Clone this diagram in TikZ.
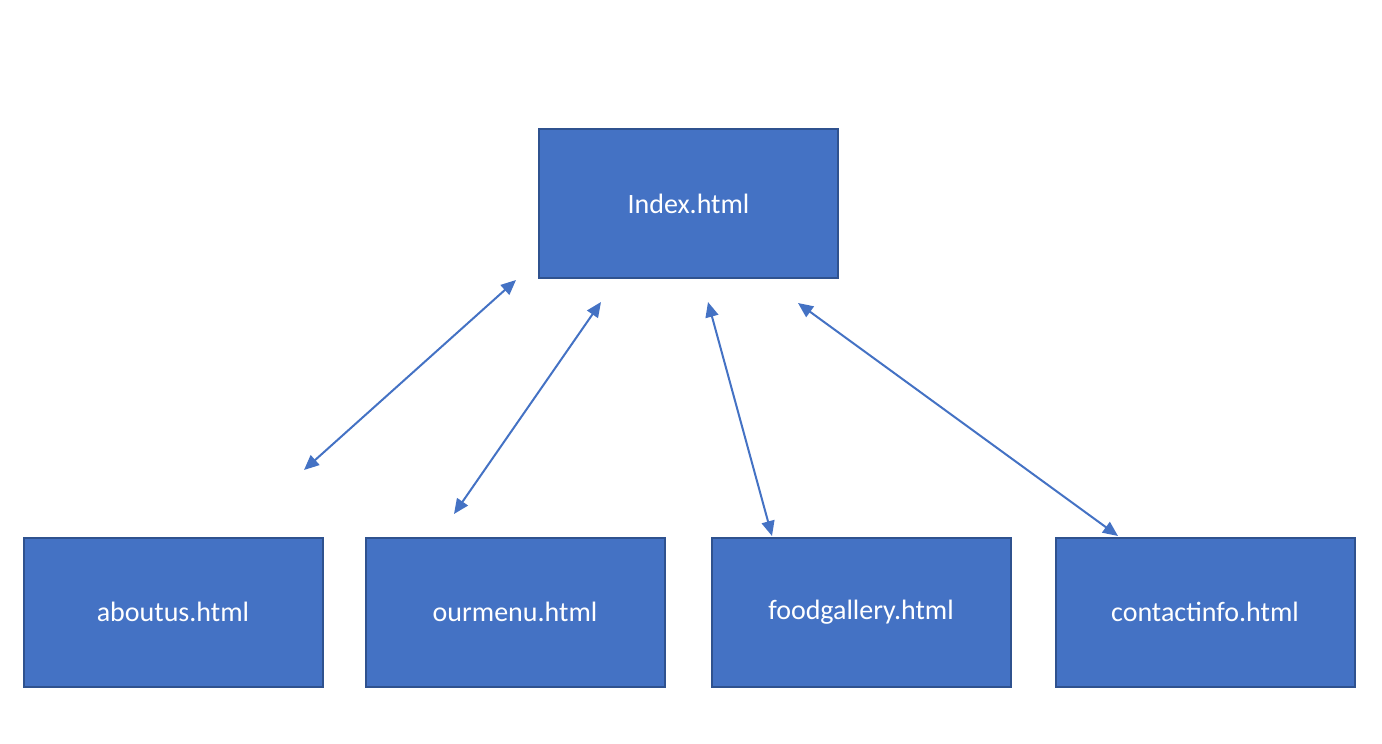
\documentclass[tikz,border=0pt]{standalone}
\usepackage{fontspec}
\setmainfont{Carlito}
\usetikzlibrary{arrows.meta}
\definecolor{boxfill}{HTML}{4472C4}
\definecolor{boxline}{HTML}{2F528F}
\begin{document}
\begin{tikzpicture}[x=1pt,y=-1pt,
  page/.style={draw=boxline,fill=boxfill,line width=2pt,minimum width=299pt,minimum height=149pt,
    inner sep=0pt,text=white,font=\fontsize{28}{32}\selectfont},
  link/.style={draw=boxfill,line width=2pt,{Triangle[length=15pt,width=13pt]}-{Triangle[length=15pt,width=13pt]}}]
\useasboundingbox (0,0) rectangle (1382,744);
\node[page] (index) at (688.5,203.5) {Index.html};
\node[page] (about) at (173,612) {aboutus.html};
\node[page] (menu) at (515,612) {ourmenu.html};
\node[page] (food) at (861,612) {foodgallery.html};
\node[page] (contact) at (1205,612) {contactinfo.html};
\coordinate (a1) at (516,280);
\coordinate (a2) at (304,470);
\coordinate (b1) at (601,302);
\coordinate (b2) at (454,514);
\coordinate (c1) at (708,302);
\coordinate (c2) at (772,536);
\coordinate (d1) at (798,303);
\coordinate (d2) at (1118,536);
\draw[link] (a1) -- (a2);
\draw[link] (b1) -- (b2);
\draw[link] (c1) -- (c2);
\draw[link] (d1) -- (d2);
\end{tikzpicture}
\end{document}
